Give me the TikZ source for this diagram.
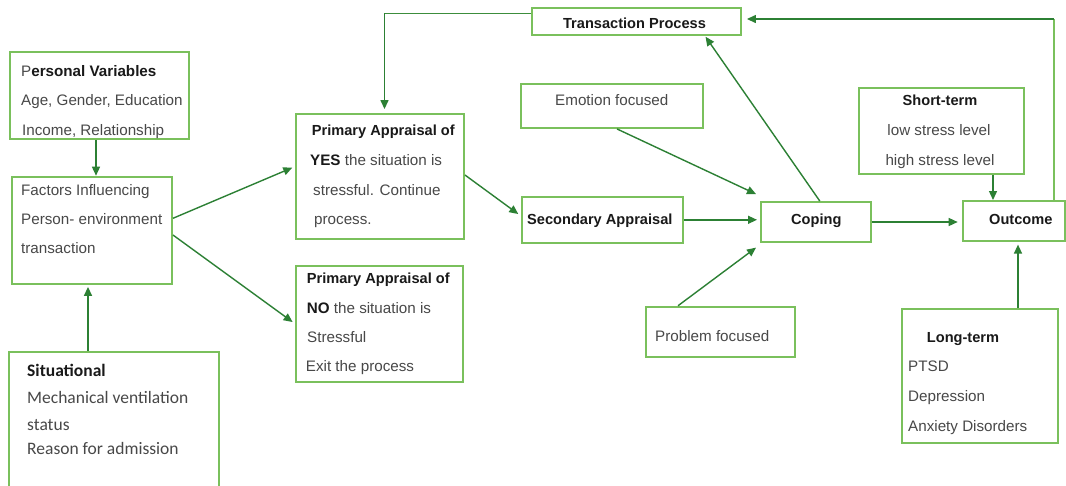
\documentclass[tikz,border=0pt]{standalone}
\usepackage{fontspec}
\setmainfont{Liberation Sans}
\newfontfamily\calib{Carlito}
\usetikzlibrary{arrows.meta}
\definecolor{boxgreen}{RGB}{122,192,92}
\definecolor{arrgreen}{RGB}{44,128,52}
\definecolor{txtgray}{RGB}{72,72,72}
\definecolor{txtdark}{RGB}{25,25,25}
\begin{document}
\begin{tikzpicture}[x=1pt,y=-1pt,
  box/.style={draw=boxgreen,line width=1.9pt,inner sep=0pt,fill=white},
  arr/.style={draw=arrgreen,line width=1.4pt,-{Triangle[length=9pt,width=8pt]}},
  thinline/.style={draw=boxgreen,line width=1.5pt},
  txt/.style={anchor=base west,inner sep=0pt,text=txtgray,font=\fontsize{15.2}{18}\selectfont},
  btxt/.style={anchor=base west,inner sep=0pt,text=txtdark,font=\fontsize{14.6}{18}\selectfont\bfseries},
  ctxt/.style={anchor=base west,inner sep=0pt,text=txtdark,font=\fontsize{17.5}{20}\selectfont\calib}
]
\useasboundingbox (0,0) rectangle (1066,485);
\fill[white] (0,0) rectangle (1066,485);

% boxes
\node[box,minimum width=179pt,minimum height=87.3pt] (pv) at (99.5,95.3) {};
\node[box,minimum width=160pt,minimum height=107.3pt] (fac) at (92,230.3) {};
\node[box,minimum width=210pt,minimum height=148.3pt] (sit) at (114,425.8) {};
\node[box,minimum width=168pt,minimum height=125pt] (yes) at (380,176.5) {};
\node[box,minimum width=167pt,minimum height=115.7pt] (no) at (379.5,323.8) {};
\node[box,minimum width=209pt,minimum height=27pt] (tp) at (636.5,21.5) {};
\node[box,minimum width=182pt,minimum height=44pt] (emo) at (612,106) {};
\node[box,minimum width=161.3pt,minimum height=46.3pt] (sec) at (602.3,219.8) {};
\node[box,minimum width=149pt,minimum height=50pt] (prob) at (720.5,331.7) {};
\node[box,minimum width=109.7pt,minimum height=40pt] (cop) at (815.8,222) {};
\node[box,minimum width=164.7pt,minimum height=86pt] (st) at (941.3,131) {};
\node[box,minimum width=102.3pt,minimum height=39.7pt] (out) at (1013.8,220.8) {};
\node[box,minimum width=156pt,minimum height=134pt] (lt) at (979.7,376) {};

% texts
\node[txt] (pv1) at (21,76.7) {P\textbf{\color{txtdark}ersonal Variables}};
\node[txt] (pv2) at (21,105.7) {Age, Gender, Education};
\node[txt] (pv3) at (22,135) {Income, Relationship};

\node[txt] (fac1) at (21,195) {Factors Influencing};
\node[txt] (fac2) at (21,224) {Person- environment};
\node[txt] (fac3) at (21,253) {transaction};

\node[ctxt] (sit1) at (27,376.7) {\bfseries Situational};
\node[ctxt,text=txtgray] (sit2) at (27,403) {Mechanical ventilation};
\node[ctxt,text=txtgray] (sit3) at (27,430) {status};
\node[ctxt,text=txtgray] (sit4) at (27,454) {Reason for admission};

\node[btxt] (yes1) at (311.7,135) {Primary Appraisal of};
\node[txt] (yes2) at (310,165.7) {\textbf{\color{txtdark}YES} the situation is};
\node[txt] (yes3) at (313,195) {stressful. Continue};
\node[txt] (yes4) at (314,224) {process.};

\node[btxt] (no1) at (306.7,283) {Primary Appraisal of};
\node[txt] (no2) at (306.7,313) {\textbf{\color{txtdark}NO} the situation is};
\node[txt] (no3) at (307,342) {Stressful};
\node[txt] (no4) at (305.7,371.7) {Exit the process};

\node[btxt,anchor=base] (tpt) at (634.5,28) {Transaction Process};
\node[txt] (emot) at (555,105) {Emotion focused};
\node[btxt] (sect) at (527,224) {Secondary Appraisal};
\node[txt] (probt) at (655,341.7) {Problem focused};
\node[btxt] (copt) at (791,224) {Coping};

\node[btxt,anchor=base] (st1) at (940,105) {Short-term};
\node[txt,anchor=base] (st2) at (939,135) {low stress level};
\node[txt,anchor=base] (st3) at (940,165) {high stress level};

\node[btxt] (outt) at (989,224) {Outcome};

\node[btxt] (lt1) at (926.7,342) {Long-term};
\node[txt] (lt2) at (908,371.7) {PTSD};
\node[txt] (lt3) at (908,401.7) {Depression};
\node[txt] (lt4) at (908,431) {Anxiety Disorders};

% connectors
\draw[arr] ([xshift=-3.5pt]pv.south) -- ([xshift=-3.5pt]pv.south |- fac.north);
\draw[arr,shorten >=2pt] ([xshift=-26pt]sit.north) -- ([xshift=-26pt]sit.north |- fac.south);
\draw[arr,shorten >=3pt] ([yshift=12pt]fac.east) -- ([yshift=10pt]yes.west);
\draw[arr,shorten >=3pt] ([yshift=-4.7pt]fac.east) -- (no.west);
\draw[arr,shorten >=3pt] ([yshift=1.5pt]yes.east) -- ([yshift=4pt]sec.west);
\draw[arr,shorten >=3pt] (sec.east) -- (sec.east -| cop.west);
\draw[arr] ([xshift=5pt]emo.south) -- ([xshift=-4pt,yshift=7pt]cop.north west);
\draw[arr] ([xshift=-42.5pt]prob.north) -- ([xshift=-4pt,yshift=-4.7pt]cop.south west);
\draw[arr,shorten >=1pt] ([xshift=4pt]cop.north) -- ([xshift=68.5pt]tp.south);
\draw[arr,shorten >=4pt] (cop.east) -- (cop.east -| out.west);
\draw[arr] ([xshift=51.7pt]st.south) -- ([xshift=51.7pt]st.south |- out.north);
\draw[arr,shorten >=3pt] ([xshift=38.3pt]lt.north) -- ([xshift=38.3pt]lt.north |- out.south);
\coordinate (corner) at ([xshift=40.2pt]out.north |- 0,19);
\draw[thinline] ([xshift=40.2pt]out.north) -- (corner);
\draw[arr,shorten >=5pt] (corner) -- (corner -| tp.east);
\draw[thinline,draw=arrgreen!80!boxgreen] ([yshift=8.2pt]tp.west) -- ([yshift=8.2pt]tp.west -| 384.5,0) coordinate (tpc);
\draw[arr,shorten >=4pt] (tpc) -- (tpc |- yes.north);
\end{tikzpicture}
\end{document}
